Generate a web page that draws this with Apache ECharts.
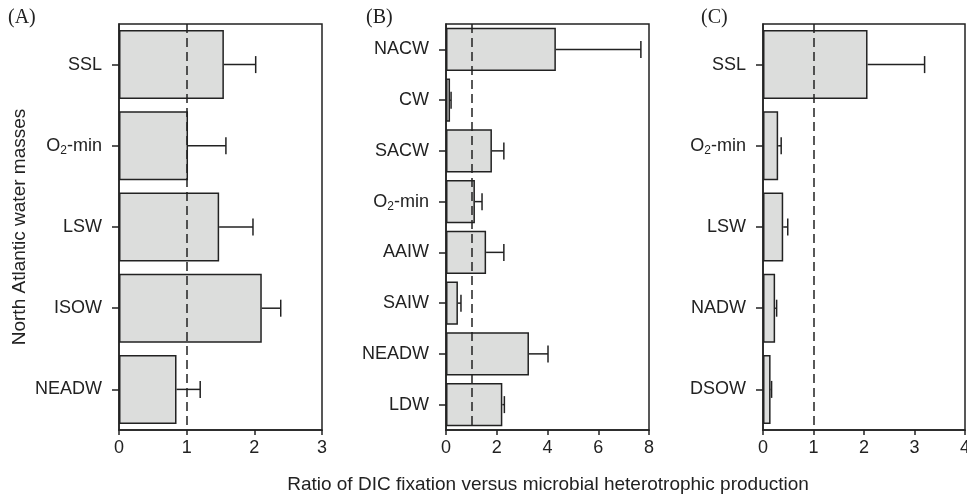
<!DOCTYPE html>
<html>
<head>
<meta charset="utf-8">
<script src="https://cdn.jsdelivr.net/npm/echarts@6/dist/echarts.min.js"></script>
<style>
  html, body { margin: 0; padding: 0; background: #fff; }
  #chart { width: 967px; height: 496px; }
</style>
</head>
<body>
<div id="chart"></div>
<script>
// panel A - North Atlantic
const catsA = ['SSL', 'O2-min', 'LSW', 'ISOW', 'NEADW'];
const valsA = [1.55, 1.02, 1.48, 2.11, 0.85];
const errA = [2.02, 1.58, 1.98, 2.39, 1.20];   // end of error bar

// panel B
const catsB = ['NACW', 'CW', 'SACW', 'O2-min', 'AAIW', 'SAIW', 'NEADW', 'LDW'];
const valsB = [4.33, 0.16, 1.81, 1.14, 1.58, 0.47, 3.27, 2.22];
const errB = [7.68, 0.20, 2.28, 1.42, 2.28, 0.59, 4.02, 2.30];

// panel C
const catsC = ['SSL', 'O2-min', 'LSW', 'NADW', 'DSOW'];
const valsC = [2.07, 0.30, 0.40, 0.24, 0.15];
const errC = [3.20, 0.36, 0.49, 0.27, 0.17];

const ticksMax = [3, 8, 4];
const ticksStep = [1, 2, 1];
const panelLabels = ['(A)', '(B)', '(C)'];

const ink = '#222';
const font = 'Liberation Sans, Arial, sans-serif';

const chart = echarts.init(document.getElementById('chart'));

const grids = [
    { left: 119, top: 24, width: 203, height: 406 },
    { left: 446, top: 24, width: 203, height: 406 },
    { left: 763, top: 24, width: 202, height: 406 },
];

function labelFmt(v) {
    if (v === 'O2-min') return '{n|O}{s|2}{n|-min}';
    return v;
}

function errorSeries(i, vals, ends) {
    return {
        type: 'custom',
        xAxisIndex: i,
        yAxisIndex: i,
        z: 5,
        data: vals.map((v, k) => [v, k, ends[k]]),
        renderItem: (params, api) => {
            const a = api.coord([api.value(0), api.value(1)]);
            const b = api.coord([api.value(2), api.value(1)]);
            const h = 8.5;
            const style = { stroke: ink, lineWidth: 1.5 };
            return {
                type: 'group',
                children: [
                    { type: 'line', shape: { x1: a[0], y1: a[1], x2: b[0], y2: b[1] }, style },
                    { type: 'line', shape: { x1: b[0], y1: b[1] - h, x2: b[0], y2: b[1] + h }, style },
                ]
            };
        }
    };
}

const allCats = [catsA, catsB, catsC];
const allVals = [valsA, valsB, valsC];
const allErr = [errA, errB, errC];

const xAxis = [], yAxis = [], series = [];
allCats.forEach((cats, i) => {
    xAxis.push({
        type: 'value',
        gridIndex: i,
        min: 0,
        max: ticksMax[i],
        interval: ticksStep[i],
        splitLine: { show: false },
        axisLine: { show: true, lineStyle: { color: ink, width: 1.5 } },
        axisTick: { show: true, length: 5, lineStyle: { color: ink, width: 1.5 } },
        axisLabel: { color: ink, fontSize: 18, fontFamily: font, margin: 9, showMinLabel: true, showMaxLabel: true },
    });
    yAxis.push({
        type: 'category',
        gridIndex: i,
        data: cats,
        inverse: true,
        name: i === 0 ? 'North Atlantic water masses' : '',
        nameLocation: 'middle',
        nameGap: 90,
        nameTextStyle: { color: ink, fontSize: 19, fontFamily: font },
        axisLine: { show: true, lineStyle: { color: ink, width: 1.5 } },
        axisTick: { show: true, alignWithLabel: true, length: 7, lineStyle: { color: ink, width: 1.5 } },
        axisLabel: {
            color: ink, fontSize: 18, fontFamily: font, margin: 17,
            formatter: labelFmt,
            rich: {
                n: { fontSize: 18, fontFamily: font, color: ink },
                s: { fontSize: 12, fontFamily: font, color: ink, verticalAlign: 'bottom', padding: [10, 0, 0, 0] },
            }
        },
    });
    series.push({
        type: 'bar',
        xAxisIndex: i,
        yAxisIndex: i,
        data: allVals[i],
        barWidth: '85%',
        itemStyle: { color: '#dcdddc', borderColor: ink, borderWidth: 1.5 },
        markLine: {
            silent: true,
            symbol: 'none',
            label: { show: false },
            lineStyle: { color: ink, type: [9, 5], width: 1.5 },
            data: [{ xAxis: 1 }],
        },
        z: 2,
    });
    series.push(errorSeries(i, allVals[i], allErr[i]));
});

const labelX = [8, 366, 701];
const graphic = panelLabels.map((t, i) => ({
    type: 'text',
    left: labelX[i],
    top: 8,
    style: { text: t, fontSize: 20, fontFamily: 'Liberation Serif, Times New Roman, serif', fill: ink },
}));
graphic.push({
    type: 'text',
    x: 548,
    y: 485,
    style: {
        text: 'Ratio of DIC fixation versus microbial heterotrophic production',
        fontSize: 19, fontFamily: font, fill: ink,
        align: 'center', verticalAlign: 'middle',
    },
});

chart.setOption({
    animation: false,
    grid: grids.map(g => Object.assign({
        show: true, borderColor: ink, borderWidth: 1.5, backgroundColor: 'transparent',
        containLabel: false, outerBoundsMode: 'none'
    }, g)),
    xAxis,
    yAxis,
    series,
    graphic,
});
</script>
</body>
</html>
